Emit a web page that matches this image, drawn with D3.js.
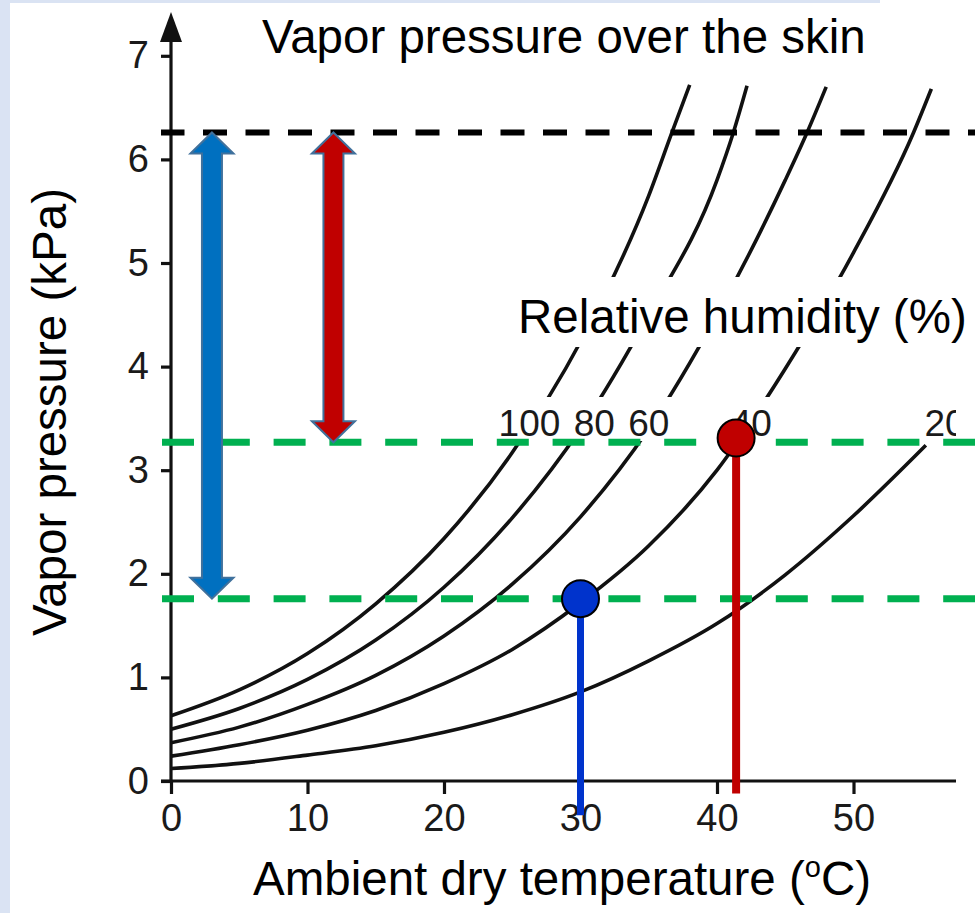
<!DOCTYPE html>
<html>
<head>
<meta charset="utf-8">
<script src="https://cdn.jsdelivr.net/npm/d3@7"></script>
<style>
  html, body { margin: 0; padding: 0; background: #dae3f3; }
  svg { display: block; font-family: "Liberation Sans", Arial, sans-serif; }
</style>
</head>
<body>
<div id="root"></div>
<script>
"use strict";

/* ************************************* Data ******************************** */

// Relative humidity curves, [temperature (oC), vapor pressure (kPa)]
const curve100 = [[0, 0.63], [5, 0.88], [10, 1.23], [15, 1.71], [20, 2.34], [25, 3.17], [30, 4.24], [35, 5.65], [36.7, 6.26], [38.0, 6.72]];
const curve80 = [[0, 0.50], [5, 0.70], [10, 0.98], [15, 1.36], [20, 1.87], [25, 2.54], [30, 3.40], [35, 4.50], [40, 5.80], [41.2, 6.26], [42.2, 6.71]];
const curve60 = [[0, 0.37], [5, 0.52], [10, 0.74], [15, 1.02], [20, 1.40], [25, 1.90], [30, 2.55], [35, 3.40], [40, 4.50], [45, 5.80], [46.6, 6.26], [48.0, 6.70]];
const curve40 = [[0, 0.24], [5, 0.35], [10, 0.49], [15, 0.68], [20, 0.94], [25, 1.27], [30, 1.72], [35, 2.27], [40, 3.00], [45, 3.98], [50, 5.10], [54.4, 6.26], [55.7, 6.68]];
const curve20 = [[0, 0.12], [5, 0.17], [10, 0.25], [15, 0.34], [20, 0.47], [25, 0.64], [30, 0.86], [35, 1.16], [40, 1.52], [45, 1.99], [50, 2.56], [55.3, 3.24]];

const rhCurves = [curve100, curve80, curve60, curve40, curve20];
const rhLabels = ["100", "80", "60", "40", "20"];
const rhLabelTemps = [24.0, 29.5, 33.5, 41.0, 55.2];   // where each label starts
const rhLabelVp = 3.33;

const xTicks = [0, 10, 20, 30, 40, 50];
const yTicks = [0, 1, 2, 3, 4, 5, 6, 7];

const skinVp = 6.26;            // black dashed line
const ambientVp = [3.27, 1.76]; // green dashed lines

// Double arrows: x position (oC), from/to (kPa)
const arrowTemps = [3.0, 11.9];
const arrowTops = [6.26, 6.26];
const arrowBottoms = [1.76, 3.27];

// Points on the 40 % curve with their drop lines
const pointTemps = [30.0, 41.4];
const pointVp = [1.76, 3.31];
const dropEnds = [-0.33, -0.12];

/* ************************************* Set up ******************************** */

const width = 975;
const height = 913;

const svg = d3.select('#root')
    .append('svg')
    .attr('width', width)
    .attr('height', height);

const xScale = d3.scaleLinear().domain([0, 50]).range([171, 853.5]);
const yScale = d3.scaleLinear().domain([0, 7]).range([781, 55.8]);

// page background (light blue border shows at left and top)
svg.append('rect').attr('x', 10).attr('y', 3).attr('width', width - 10).attr('height', height - 3).attr('fill', '#fff');
svg.append('rect').attr('x', 880).attr('y', 0).attr('width', 95).attr('height', 4).attr('fill', '#fff');

/* ************************************* Curves ******************************** */

const line = d3.line()
    .x(d => xScale(d[0]))
    .y(d => yScale(d[1]))
    .curve(d3.curveMonotoneX);

svg.append('g').selectAll('path')
    .data(rhCurves)
    .enter().append('path')
    .attr('d', line)
    .attr('fill', 'none')
    .attr('stroke', '#111')
    .attr('stroke-width', 3.6);

// white boxes covering the curves behind the labels
const boxes = [
    [240, 3, 640, 68],
    [467, 277, 508, 70],
    [490, 397, 186, 44],
    [731, 397, 64, 44],
    [918, 400, 38, 44]
];
svg.append('g').selectAll('rect')
    .data(boxes)
    .enter().append('rect')
    .attr('x', d => d[0]).attr('y', d => d[1])
    .attr('width', d => d[2]).attr('height', d => d[3])
    .attr('fill', '#fff');

svg.append('clipPath').attr('id', 'scanClip')
    .append('rect').attr('x', 0).attr('y', 0).attr('width', 956).attr('height', height);

svg.append('g').attr('clip-path', 'url(#scanClip)')
    .selectAll('text')
    .data(rhLabels)
    .enter().append('text')
    .attr('x', (d, i) => xScale(rhLabelTemps[i]))
    .attr('y', yScale(rhLabelVp))
    .attr('font-size', 37)
    .attr('fill', '#1a1a1a')
    .text(d => d);

/* ************************************* Axes ******************************** */

const axisG = svg.append('g').attr('stroke', '#111').attr('stroke-width', 3.2);

axisG.append('line')
    .attr('x1', 161).attr('x2', 956)
    .attr('y1', yScale(0)).attr('y2', yScale(0));
axisG.append('line')
    .attr('x1', xScale(0)).attr('x2', xScale(0))
    .attr('y1', 40).attr('y2', yScale(0));
svg.append('path')
    .attr('d', `M${xScale(0)},12 L${xScale(0) + 11},42 L${xScale(0) - 11},42 Z`)
    .attr('fill', '#111');

const xAxis = d3.axisBottom(xScale).tickValues(xTicks).tickSize(13).tickSizeOuter(0).tickPadding(10)
    .tickFormat(d3.format('d'));
const yAxis = d3.axisLeft(yScale).tickValues(yTicks).tickSize(10).tickSizeOuter(0).tickPadding(12)
    .tickFormat(d3.format('d'));

const xAxisG = svg.append('g')
    .attr('transform', `translate(0,${yScale(0)})`)
    .call(xAxis);
const yAxisG = svg.append('g')
    .attr('transform', `translate(${xScale(0)},0)`)
    .call(yAxis);

[xAxisG, yAxisG].forEach(g => {
    g.select('.domain').remove();
    g.selectAll('line').attr('stroke', '#111').attr('stroke-width', 3.2);
    g.selectAll('text')
        .attr('font-size', 38)
        .attr('font-family', '"Liberation Sans", Arial, sans-serif')
        .attr('fill', '#1a1a1a');
});
xAxisG.selectAll('text').attr('dy', '0.72em');

/* ************************************* Titles ******************************** */

svg.append('text')
    .attr('x', 262).attr('y', 53)
    .attr('font-size', 47.5)
    .text('Vapor pressure over the skin');

svg.append('text')
    .attr('x', 518).attr('y', 333)
    .attr('font-size', 47.5)
    .text('Relative humidity (%)');

svg.append('text')
    .attr('transform', 'translate(66,412) rotate(-90)')
    .attr('text-anchor', 'middle')
    .attr('font-size', 47.5)
    .text('Vapor pressure (kPa)');

const xLabel = svg.append('text')
    .attr('x', 253).attr('y', 895)
    .attr('font-size', 47.5);
xLabel.append('tspan').text('Ambient dry temperature (');
xLabel.append('tspan').attr('font-size', 29).attr('dy', -18).text('o');
xLabel.append('tspan').attr('dy', 18).text('C)');

/* ************************************* Overlay lines ******************************** */

svg.append('line')
    .attr('x1', 161).attr('x2', width)
    .attr('y1', yScale(skinVp)).attr('y2', yScale(skinVp))
    .attr('stroke', '#000').attr('stroke-width', 6)
    .attr('stroke-dasharray', '24 18.5').attr('stroke-dashoffset', 0.5);

svg.append('g').selectAll('line')
    .data(ambientVp)
    .enter().append('line')
    .attr('x1', 162).attr('x2', width)
    .attr('y1', d => yScale(d)).attr('y2', d => yScale(d))
    .attr('stroke', '#00b050').attr('stroke-width', 7)
    .attr('stroke-dasharray', '32 23.8');

/* ************************************* Arrows ******************************** */

const arrowFill = ['#0070c0', '#c00000'];
const shaftW = 20, headW = 43, headL = 21;

function arrowPath(i) {
    const xc = xScale(arrowTemps[i]);
    const t = yScale(arrowTops[i]);
    const b = yScale(arrowBottoms[i]);
    const pts = [
        [xc, t], [xc + headW / 2, t + headL], [xc + shaftW / 2, t + headL],
        [xc + shaftW / 2, b - headL], [xc + headW / 2, b - headL], [xc, b],
        [xc - headW / 2, b - headL], [xc - shaftW / 2, b - headL],
        [xc - shaftW / 2, t + headL], [xc - headW / 2, t + headL]
    ];
    return 'M' + pts.map(p => p.join(',')).join('L') + 'Z';
}

svg.append('g').selectAll('path')
    .data(arrowTemps)
    .enter().append('path')
    .attr('d', (d, i) => arrowPath(i))
    .attr('fill', (d, i) => arrowFill[i])
    .attr('stroke', '#41719c')
    .attr('stroke-width', 2)
    .attr('stroke-linejoin', 'miter');

/* ************************************* Points ******************************** */

const pointColor = ['#0033cc', '#c00000'];
const dropWidth = [7, 8];

svg.append('g').selectAll('line')
    .data(pointTemps)
    .enter().append('line')
    .attr('x1', d => xScale(d)).attr('x2', d => xScale(d))
    .attr('y1', (d, i) => yScale(pointVp[i]))
    .attr('y2', (d, i) => yScale(dropEnds[i]))
    .attr('stroke', (d, i) => pointColor[i])
    .attr('stroke-width', (d, i) => dropWidth[i]);

svg.append('g').selectAll('circle')
    .data(pointTemps)
    .enter().append('circle')
    .attr('cx', d => xScale(d))
    .attr('cy', (d, i) => yScale(pointVp[i]))
    .attr('r', 18.5)
    .attr('fill', (d, i) => pointColor[i])
    .attr('stroke', '#000')
    .attr('stroke-width', 2);
</script>
</body>
</html>
